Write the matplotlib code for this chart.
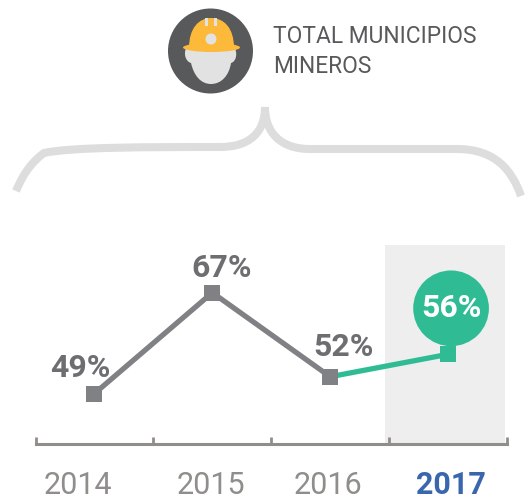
import matplotlib
matplotlib.use('Agg')
import matplotlib.pyplot as plt
from matplotlib.patches import Circle, PathPatch, Ellipse
from matplotlib.path import Path

plt.rcParams['font.family'] = ['Roboto', 'DejaVu Sans']

years = ['2014', '2015', '2016', '2017']
values = [49, 67, 52, 56]
labels = ['49%', '67%', '52%', '56%']
title_lines = ['TOTAL MUNICIPIOS', 'MINEROS']

GREY = '#808184'
GREEN = '#2FBC94'
W, H = 525, 496
PX = 0.72  # px to points

fig = plt.figure(figsize=(W / 100, H / 100), dpi=100)

# overlay in pixel coords for the icon and brace
bg = fig.add_axes([0, 0, 1, 1])
bg.set_xlim(0, W)
bg.set_ylim(H, 0)
bg.axis('off')

# main chart
ax = fig.add_axes([35.5 / W, (H - 444) / H, 471.5 / W, 199 / H])
ax.patch.set_alpha(0)
ax.set_xlim(-0.5, 3.5)
ax.set_ylim(40, 75.5)
x = list(range(len(years)))

ax.axvspan(2.466, 3.483, color='#EEEEEE', lw=0, zorder=0)
ax.plot(x[:3], values[:3], color=GREY, lw=3.8, zorder=2, solid_capstyle='butt')
ax.plot(x[2:], values[2:], color=GREEN, lw=3.8, zorder=2, solid_capstyle='butt')
ax.plot(x[:3], values[:3], 's', color=GREY, ms=12, mew=0, zorder=3)
ax.plot(x[3], values[3], 's', color=GREEN, ms=12, mew=0, zorder=3)

# value labels, offsets in px from each point
offsets = [(-14, 26), (9, 25), (13, 30), (3, 46)]
for i, lab in enumerate(labels):
    c = 'white' if i == 3 else '#6D6E71'
    box = dict(boxstyle='circle,pad=0.24', fc=GREEN, ec='none') if i == 3 else None
    ax.annotate(lab, (x[i], values[i]), xytext=(offsets[i][0] * PX, offsets[i][1] * PX),
                textcoords='offset points', ha='center', va='center', fontsize=23,
                fontweight='bold', color=c, zorder=6, bbox=box)

for s in ['top', 'left', 'right']:
    ax.spines[s].set_visible(False)
ax.spines['bottom'].set_color('#8F8E8B')
ax.spines['bottom'].set_linewidth(2.2)
ax.set_yticks([])
ax.set_xticks([-0.5, 0.5, 1.5, 2.5, 3.5])
ax.set_xticklabels([])
ax.tick_params(axis='x', direction='in', length=5, width=2, color='#8F8E8B')

# year labels are not centered on the points in the original
year_dx = [-16.5, -1, -2, 3]
for i, yr in enumerate(years):
    last = i == 3
    ax.annotate(yr, (x[i], 40), xytext=(year_dx[i] * PX, -50 * PX), textcoords='offset points',
                ha='center', va='baseline', fontsize=22,
                fontweight='bold' if last else 'normal',
                color='#3A66AE' if last else '#8F8E8B')

# brace over the chart
verts = [(16, 191), (24, 172), (33, 161), (44, 153),
         (70, 147), (150, 147), (220, 147),
         (250, 147), (265, 132), (265, 107),
         (265, 132), (280, 149), (310, 149),
         (360, 149), (410, 149), (457, 149),
         (495, 149), (512, 170), (521, 196)]
codes = [Path.MOVETO] + [Path.CURVE4] * 18
bg.add_patch(PathPatch(Path(verts, codes), fc='none', ec='#DCDDDC', lw=5.8, capstyle='butt', joinstyle='miter'))

# miner icon
bg.add_patch(Circle((210.5, 51), 42.5, fc='#58595B', ec='none'))
head = [(186, 48), (183, 56), (187, 62), (191, 63),
        (194, 76), (201, 84), (211, 84),
        (221, 84), (229, 76), (231, 63),
        (235, 62), (238, 56), (235, 48), (186, 48)]
hcodes = [Path.MOVETO] + [Path.CURVE4] * 12 + [Path.CLOSEPOLY]
bg.add_patch(PathPatch(Path(head, hcodes), fc='#E2E2E2', ec='none'))
dome = [(189, 48), (189, 28), (199, 18), (211, 18),
        (224, 18), (234, 28), (234, 48), (189, 48)]
dcodes = [Path.MOVETO] + [Path.CURVE4] * 6 + [Path.CLOSEPOLY]
bg.add_patch(PathPatch(Path(dome, dcodes), fc='#FDB93A', ec='none'))
bg.add_patch(Ellipse((211.5, 47.5), 57, 9, fc='#FDB93A', ec='none'))
bg.add_patch(Circle((211, 39), 5.5, fc='#E2E2E2', ec='none'))
for sx in (205, 213.5):
    bg.fill([sx, sx + 3.2, sx + 3.2, sx], [18, 18, 26, 26], fc='#E2E2E2', ec='none')

bg.text(273, 43, title_lines[0], fontsize=16.4, color='#58595B', va='baseline', ha='left')
bg.text(273, 73, title_lines[1], fontsize=16.4, color='#58595B', va='baseline', ha='left')

fig.savefig('out.png', dpi=100)
